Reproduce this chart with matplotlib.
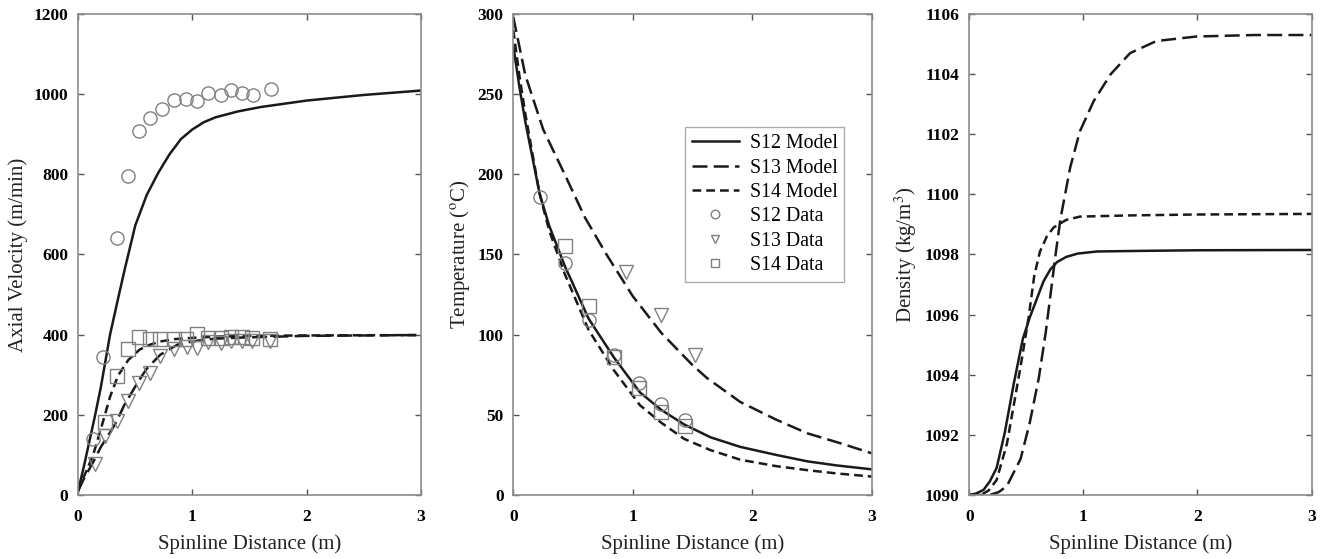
import numpy as np
import matplotlib
matplotlib.use('Agg')
import matplotlib.pyplot as plt

plt.rcParams['font.family'] = ['Liberation Serif', 'DejaVu Serif']
plt.rcParams['mathtext.fontset'] = 'stix'

# ---- axial velocity (m/min) ----
vel_s12_x = [0, 0.05, 0.1, 0.15, 0.2, 0.28, 0.35, 0.41, 0.5, 0.6, 0.7, 0.8, 0.9, 1.0, 1.1, 1.2, 1.4, 1.6, 2.0, 2.5, 3.0]
vel_s12_y = [10, 70, 135, 200, 270, 400, 490, 565, 672, 748, 803, 850, 888, 912, 930, 942, 957, 968, 984, 998, 1009]
vel_s13_x = [0, 0.05, 0.13, 0.2, 0.3, 0.34, 0.4, 0.52, 0.6, 0.72, 0.87, 1.0, 1.07, 1.2, 1.45, 2.0, 3.0]
vel_s13_y = [10, 40, 81, 120, 165, 185, 222, 280, 315, 350, 375, 383, 386, 390, 393, 397, 399]
vel_s14_x = [0, 0.05, 0.13, 0.2, 0.28, 0.35, 0.44, 0.54, 0.63, 0.72, 0.85, 1.0, 1.2, 1.5, 2.0, 3.0]
vel_s14_y = [10, 45, 98, 165, 245, 298, 337, 363, 375, 383, 389, 392, 395, 397, 398, 399]

vel_d12_x = [0.13, 0.22, 0.34, 0.44, 0.53, 0.63, 0.73, 0.84, 0.94, 1.04, 1.14, 1.25, 1.34, 1.43, 1.53, 1.69]
vel_d12_y = [140, 345, 640, 797, 907, 940, 964, 986, 988, 982, 1003, 998, 1011, 1004, 999, 1014]
vel_d13_x = [0.15, 0.24, 0.34, 0.44, 0.53, 0.63, 0.72, 0.84, 0.95, 1.04, 1.14, 1.25, 1.34, 1.43, 1.52, 1.68]
vel_d13_y = [77, 147, 185, 234, 280, 305, 346, 363, 369, 367, 381, 378, 383, 384, 385, 385]
vel_d14_x = [0.24, 0.34, 0.44, 0.53, 0.63, 0.72, 0.84, 0.94, 1.04, 1.14, 1.25, 1.34, 1.43, 1.52, 1.68]
vel_d14_y = [181, 296, 364, 393, 390, 388, 389, 389, 402, 392, 392, 394, 395, 392, 388]

# ---- temperature (C) ----
tem_s12_x = [0, 0.05, 0.1, 0.22, 0.3, 0.43, 0.63, 0.84, 1.06, 1.24, 1.43, 1.65, 1.9, 2.2, 2.46, 2.7, 3.0]
tem_s12_y = [280, 255, 233, 188, 168, 143, 110, 86, 64, 53, 44, 36, 30, 25, 21, 18.5, 16]
tem_s13_x = [0, 0.1, 0.25, 0.43, 0.6, 0.78, 1.0, 1.24, 1.5, 1.62, 1.9, 2.2, 2.46, 2.75, 3.0]
tem_s13_y = [298, 262, 228, 200, 173, 150, 124, 101, 81, 73, 58, 47, 38.5, 32, 26]
tem_s14_x = [0, 0.05, 0.1, 0.22, 0.3, 0.43, 0.63, 0.84, 1.06, 1.24, 1.43, 1.65, 1.9, 2.2, 2.46, 2.7, 3.0]
tem_s14_y = [290, 262, 238, 188, 165, 138, 103, 78, 56, 45, 35, 28, 22, 18, 15.5, 13.5, 11.5]

tem_d12_x = [0.22, 0.43, 0.63, 0.84, 1.05, 1.24, 1.44]
tem_d12_y = [186, 145, 109, 87, 70, 57, 47]
tem_d13_x = [0.94, 1.24, 1.52]
tem_d13_y = [139, 112, 87]
tem_d14_x = [0.43, 0.63, 0.84, 1.05, 1.24, 1.44]
tem_d14_y = [155, 118, 86, 67, 52, 43]

# ---- density (kg/m3) ----
den_s12_x = [0, 0.06, 0.125, 0.18, 0.24, 0.31, 0.39, 0.47, 0.53, 0.59, 0.65, 0.71, 0.77, 0.85, 0.95, 1.12, 1.5, 2.0, 3.0]
den_s12_y = [1090, 1090.05, 1090.17, 1090.45, 1090.9, 1092.05, 1093.7, 1095.2, 1095.9, 1096.5, 1097.1, 1097.5, 1097.75, 1097.92, 1098.03, 1098.1, 1098.12, 1098.14, 1098.15]
den_s13_x = [0, 0.18, 0.26, 0.33, 0.45, 0.53, 0.61, 0.67, 0.71, 0.76, 0.8, 0.885, 0.97, 1.09, 1.24, 1.41, 1.64, 1.99, 2.5, 3.0]
den_s13_y = [1090, 1090, 1090.1, 1090.3, 1091.2, 1092.4, 1093.9, 1095.4, 1096.6, 1098.1, 1099.2, 1100.9, 1102.1, 1103.1, 1104.0, 1104.7, 1105.1, 1105.25, 1105.3, 1105.3]
den_s14_x = [0, 0.1, 0.17, 0.24, 0.33, 0.4, 0.46, 0.52, 0.57, 0.62, 0.68, 0.74, 0.85, 0.97, 1.41, 2.0, 3.0]
den_s14_y = [1090, 1090, 1090.15, 1090.5, 1091.7, 1093.2, 1094.5, 1095.9, 1097.3, 1098.1, 1098.6, 1098.9, 1099.15, 1099.26, 1099.3, 1099.33, 1099.35]

line_c = '#1a1a1a'
mark_c = '#808080'
frame_c = '#8c8c8c'
s13_ls = (0, (6, 2.5))
s14_ls = (0, (3.5, 2))


def makeitnice(ax, ylabel, yticks, ylim):
    ax.set_xlim(0, 3)
    ax.set_ylim(*ylim)
    ax.set_xticks([0, 1, 2, 3])
    ax.set_yticks(yticks)
    ax.tick_params(direction='in', top=True, right=True, length=4, width=1,
                   color='#555555', labelsize=12.5)
    ax.tick_params(axis='x', pad=10)
    ax.tick_params(axis='y', pad=7)
    for lab in ax.get_xticklabels() + ax.get_yticklabels():
        lab.set_fontweight('bold')
    for sp in ax.spines.values():
        sp.set_color(frame_c)
        sp.set_linewidth(1.2)
    ax.set_xlabel('Spinline Distance (m)', fontsize=15, color='#222222', labelpad=7)
    ax.set_ylabel(ylabel, fontsize=15, color='#222222', labelpad=4)
    return


fig = plt.figure(figsize=(13.25, 5.59), dpi=100)
ax1 = fig.add_axes([0.0589, 0.1145, 0.2589, 0.8605])
ax2 = fig.add_axes([0.3874, 0.1145, 0.2705, 0.8605])
ax3 = fig.add_axes([0.7315, 0.1145, 0.2584, 0.8605])

mk = dict(ls='none', mfc='none', mec=mark_c, ms=9.5, mew=1)

# velocity
ax1.plot(vel_s12_x, vel_s12_y, color=line_c, lw=1.8)
ax1.plot(vel_s13_x, vel_s13_y, color=line_c, lw=1.8, ls=s13_ls)
ax1.plot(vel_s14_x, vel_s14_y, color=line_c, lw=1.8, ls=s14_ls)
ax1.plot(vel_d12_x, vel_d12_y, marker='o', **mk)
ax1.plot(vel_d13_x, vel_d13_y, marker='v', **mk)
ax1.plot(vel_d14_x, vel_d14_y, marker='s', **mk)
makeitnice(ax1, 'Axial Velocity (m/min)', range(0, 1201, 200), (0, 1200))

# temperature
ax2.plot(tem_s12_x, tem_s12_y, color=line_c, lw=1.8, label='S12 Model')
ax2.plot(tem_s13_x, tem_s13_y, color=line_c, lw=1.8, ls=s13_ls, label='S13 Model')
ax2.plot(tem_s14_x, tem_s14_y, color=line_c, lw=1.8, ls=s14_ls, label='S14 Model')
ax2.plot(tem_d12_x, tem_d12_y, marker='o', label='S12 Data', **mk)
ax2.plot(tem_d13_x, tem_d13_y, marker='v', label='S13 Data', **mk)
ax2.plot(tem_d14_x, tem_d14_y, marker='s', label='S14 Data', **mk)
makeitnice(ax2, 'Temperature ($^{\\rm o}$C)', range(0, 301, 50), (0, 300))
leg = ax2.legend(loc='upper left', bbox_to_anchor=(0.479, 0.7645), fontsize=14.3,
                 frameon=True, fancybox=False, handlelength=2.35, borderpad=0.35,
                 labelspacing=0.27, handletextpad=0.55, borderaxespad=0,
                 markerscale=0.65)
leg.get_frame().set_edgecolor('#999999')
leg.get_frame().set_linewidth(1.0)

# density
ax3.plot(den_s12_x, den_s12_y, color=line_c, lw=1.8)
ax3.plot(den_s13_x, den_s13_y, color=line_c, lw=1.8, ls=s13_ls)
ax3.plot(den_s14_x, den_s14_y, color=line_c, lw=1.8, ls=s14_ls)
makeitnice(ax3, 'Density (kg/m$^3$)', range(1090, 1107, 2), (1090, 1106))

plt.savefig('out.png', dpi=100)
plt.close()
